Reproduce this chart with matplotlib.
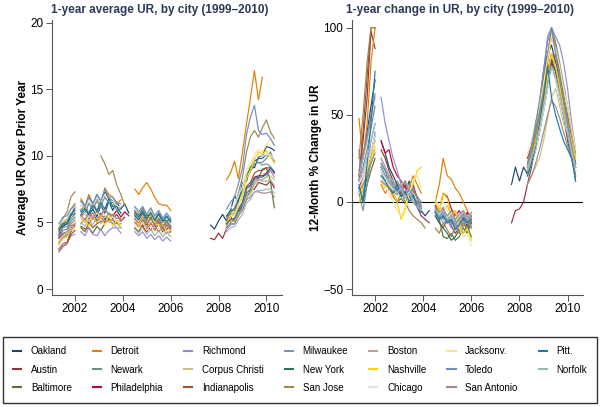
import numpy as np
import matplotlib
matplotlib.use("Agg")
import matplotlib.pyplot as plt

nan = np.nan

# time grid (decimal years), four segments separated by gaps
seg_len = [5, 13, 10, 17]
t = [2001.33, 2001.5, 2001.67, 2001.83, 2002.0,
     2002.25, 2002.42, 2002.58, 2002.75, 2002.92, 2003.08, 2003.25, 2003.42,
     2003.58, 2003.75, 2003.92, 2004.08, 2004.25,
     2004.5, 2004.67, 2004.83, 2005.0, 2005.17, 2005.33, 2005.5, 2005.67,
     2005.83, 2006.0,
     2007.67, 2007.83, 2008.0, 2008.17, 2008.33, 2008.5, 2008.67, 2008.83,
     2009.0, 2009.17, 2009.33, 2009.5, 2009.67, 2009.83, 2010.0, 2010.17, 2010.33]

cities = ["Oakland", "Austin", "Baltimore", "Detroit", "Newark", "Philadelphia",
          "Richmond", "Corpus Christi", "Indianapolis", "Milwaukee", "New York",
          "San Jose", "Boston", "Nashville", "Chicago", "Jacksonv.", "Toledo",
          "San Antonio", "Pitt.", "Norfolk"]
colors = ["#1a476f", "#90353b", "#55752f", "#e37e00", "#6e8e84", "#c10534",
          "#938dd2", "#cac27e", "#a0522d", "#7b92a8", "#2d6d66", "#9c8847",
          "#bfa19c", "#ffd200", "#d9e6eb", "#f2e39c", "#6d8fc6", "#a08890",
          "#1f7aa0", "#9ab6bb"]

# 1-year average unemployment rate
oakland_avg = [4.0, 4.7, 4.9, 5.6, 6.1,
               5.8, 6.1, 5.5, 6.0, 5.4, 6.3, 5.7, 6.6, 5.9, 6.5, 6.0, 6.4, 5.7,
               5.5, 5.2, 5.7, 5.0, 5.4, 4.8, 5.3, 4.7, 5.1, 4.7,
               4.8, 4.5, 5.1, 5.6, 5.1, 5.9, 7.0, 6.5, 8.0, 8.1, 9.2, 9.1, 9.9, 10.0, 10.7, 10.6, 10.4]
austin_avg = [3.0, 3.4, 3.5, 4.3, 4.8,
              4.9, 5.3, 4.9, 5.4, 5.0, 5.7, 5.2, 5.7, 5.3, 5.6, 5.1, 5.4, nan,
              5.0, 4.7, 4.7, 4.9, 4.4, 4.8, 4.3, 4.6, 4.2, 4.3,
              3.8, 3.7, 4.2, 3.8, 4.5, 5.1, 5.2, 5.7, 6.3, 6.8, 7.4, 7.5, 8.0, 7.9, 7.8, 8.1, 7.6]
baltimore_avg = [3.5, 3.9, 4.1, 4.6, 4.9,
                 4.7, 4.5, 4.6, 4.2, 4.7, 4.4, 4.9, 5.3, 4.9, 5.0, 4.6, nan, nan,
                 4.6, 4.3, 4.9, 4.5, 5.0, 4.4, 4.9, 4.3, 4.8, 4.5,
                 nan, nan, nan, nan, 4.6, 5.0, 5.2, 5.7, 6.2, 7.2, 7.5, 8.2, 8.3, 9.0, 9.1, 8.1, 6.1]
detroit_avg = [4.3, 4.9, 5.2, 6.0, 6.4,
               6.8, 6.2, 7.1, 6.4, 6.8, 6.3, 7.6, 7.1, 6.9, 6.4, 6.7, nan, nan,
               7.5, 7.1, 7.6, 8.0, 7.5, 6.9, 6.4, 6.3, 6.3, 5.9,
               nan, nan, nan, nan, 8.2, 8.7, 9.6, 8.3, 10.3, 12.4, 14.3, 16.4, 14.2, 15.9, nan, nan, nan]
newark_avg = [3.9, 4.4, 4.5, 5.1, 5.4,
              5.9, 6.3, 5.7, 6.5, 5.9, 6.7, 6.8, 6.6, 6.2, 6.1, 5.7, nan, nan,
              5.8, 5.5, 6.0, 5.3, 5.8, 5.2, 5.6, 5.0, 5.4, 5.0,
              nan, nan, nan, nan, 5.4, 5.8, 5.9, 6.7, 7.4, 8.5, 8.8, 9.4, 9.5, 9.5, 9.8, 10.3, 9.5]
philadelphia_avg = [3.8, 4.1, 4.2, 4.7, 5.0,
                    5.5, 5.7, 5.2, 5.7, 5.1, 5.4, 5.0, 5.5, 5.5, 5.9, 5.4, 5.8, 5.5,
                    5.3, 4.8, 4.7, 4.3, 4.9, 4.4, 5.0, 4.5, 4.5, 4.6,
                    nan, nan, nan, nan, 4.9, 5.4, 5.1, 6.0, 6.4, 7.5, 7.8, 8.4, 8.5, 8.5, 8.7, 9.1, 8.7]
richmond_avg = [3.0, 3.4, 3.5, 4.0, 4.1,
                4.3, 4.0, 4.6, 4.1, 4.0, 4.5, 4.0, 4.4, 4.6, 4.6, 4.2, nan, nan,
                4.3, 4.0, 4.3, 3.8, 4.1, 3.7, 4.0, 3.6, 3.9, 3.6,
                nan, nan, nan, nan, 4.5, 4.8, 4.9, 5.5, 6.1, 7.0, 7.3, 8.0, 8.2, 8.2, 8.4, 8.9, 8.4]
corpus_avg = [4.6, 5.1, 5.2, 5.7, 5.9,
              6.3, 5.9, 6.5, 6.1, 6.7, 6.3, 7.1, 6.7, 6.6, 6.1, 6.1, nan, nan,
              6.1, 5.7, 6.0, 5.5, 5.9, 5.4, 5.7, 5.1, 5.5, 5.1,
              nan, nan, nan, nan, 4.8, 5.1, 5.1, 5.7, 5.9, 6.9, 7.1, 7.8, 8.2, 8.2, 8.4, 8.5, 8.2]
indianapolis_avg = [2.8, 3.2, 3.4, 4.1, 4.4,
                    4.6, 4.3, 5.0, 4.6, 4.9, 5.1, 5.0, 5.2, 5.2, 4.9, 4.9, nan, nan,
                    5.0, 4.7, 5.2, 4.8, 5.3, 4.8, 5.2, 4.7, 5.1, 4.7,
                    nan, nan, nan, nan, 4.7, 5.1, 5.3, 6.0, 6.5, 7.7, 8.0, 8.7, 8.9, 8.9, 9.1, 9.1, 8.7]
milwaukee_avg = [4.2, 4.6, 4.7, 5.3, 5.6,
                 6.0, 5.7, 6.4, 6.0, 6.6, 6.1, 7.0, 6.5, 6.5, 5.9, 6.0, nan, nan,
                 5.6, 5.3, 5.8, 5.2, 5.7, 5.1, 5.6, 5.0, 5.4, 5.0,
                 nan, nan, nan, nan, 5.3, 5.6, 5.7, 6.4, 7.1, 8.5, 8.9, 9.4, 9.5, 9.3, 9.4, 9.2, 8.8]
newyork_avg = [4.5, 4.9, 5.0, 5.6, 5.9,
               6.6, 6.2, 6.9, 6.4, 7.1, 6.6, 7.3, 6.8, 6.6, 6.2, 6.2, nan, nan,
               5.9, 5.6, 6.1, 5.5, 5.6, 5.1, 5.7, 5.2, 5.1, 5.2,
               nan, nan, nan, nan, 5.5, 5.9, 6.0, 6.7, 7.4, 8.6, 9.1, 9.6, 9.8, 9.8, 10.1, 10.1, 9.6]
sanjose_avg = [4.5, 5.3, 5.8, 6.9, 7.3,
               nan, nan, nan, nan, nan, 10.0, 9.4, 8.6, 8.9, 7.8, 7.1, 6.3, nan,
               5.9, 5.5, 5.9, 5.2, 5.6, 4.9, 5.3, 4.7, 5.1, 4.6,
               nan, nan, nan, nan, 5.2, 5.7, 6.1, 7.2, 8.4, 10.3, 11.4, 11.9, 11.4, 12.1, 12.7, 11.8, 11.3]
boston_avg = [3.4, 3.8, 4.0, 4.6, 4.9,
              5.3, 5.0, 5.6, 5.2, 5.8, 5.4, 6.0, 5.5, 5.5, 5.1, 5.1, nan, nan,
              5.0, 4.7, 5.1, 4.6, 5.0, 4.5, 4.9, 4.4, 4.7, 4.4,
              nan, nan, nan, nan, 4.9, 5.2, 5.3, 5.9, 6.4, 7.5, 7.7, 8.2, 8.2, 8.1, 8.1, 8.2, 7.8]
nashville_avg = [3.3, 3.8, 3.9, 4.4, 4.6,
                 4.9, 5.3, 4.7, 5.4, 5.0, 5.5, 4.8, 5.6, 4.7, 5.1, 4.6, nan, nan,
                 5.2, 4.8, 5.5, 4.9, 5.7, 5.0, 4.8, 4.8, 4.3, 4.4,
                 nan, nan, nan, nan, 5.0, 5.4, 5.6, 6.3, 6.9, 8.3, 8.9, 9.7, 10.3, 10.1, 10.4, 9.9, 9.5]
chicago_avg = [4.8, 5.2, 5.3, 5.9, 6.2,
               6.5, 6.2, 6.7, 6.3, 6.9, 6.5, 7.1, 6.6, 6.6, 6.2, 6.2, nan, nan,
               6.0, 5.7, 6.2, 5.6, 6.0, 5.5, 5.9, 5.4, 5.7, 5.3,
               nan, nan, nan, nan, 5.8, 6.1, 6.3, 7.0, 7.7, 9.0, 9.4, 9.9, 10.0, 10.0, 10.1, 10.1, 9.7]
jacksonv_avg = [3.6, 4.0, 4.2, 4.8, 5.0,
                5.3, 5.7, 5.1, 5.6, 5.7, 5.5, 5.6, 5.4, 5.4, 5.2, 4.8, nan, nan,
                4.8, 4.5, 5.0, 4.4, 4.8, 4.3, 4.6, 4.1, 4.4, 4.0,
                nan, nan, nan, nan, 4.6, 5.1, 5.4, 6.3, 7.2, 8.7, 9.3, 10.1, 10.5, 10.3, 10.8, 11.3, 10.8]
toledo_avg = [4.9, 5.4, 5.5, 6.0, 6.3,
              6.6, 6.2, 6.9, 6.4, 7.1, 6.6, 7.5, 6.9, 6.9, 6.5, 6.4, nan, nan,
              6.2, 5.8, 6.2, 5.6, 6.1, 5.5, 5.9, 5.3, 5.7, 5.3,
              nan, nan, nan, nan, 6.0, 6.5, 6.9, 7.9, 9.1, 11.6, 12.9, 13.8, 11.9, 11.6, 11.7, 11.3, 10.8]
sanantonio_avg = [3.9, 4.2, 4.3, 4.9, 5.2,
                  5.5, 5.2, 5.7, 5.3, 5.9, 5.5, 6.1, 5.6, 5.6, 5.3, 5.3, nan, nan,
                  5.3, 5.0, 5.4, 4.9, 5.3, 4.8, 5.1, 4.6, 4.9, 4.5,
                  nan, nan, nan, nan, 4.6, 4.9, 4.9, 5.5, 5.9, 6.7, 6.9, 7.3, 7.3, 7.2, 7.2, 7.3, 6.9]
pitt_avg = [4.4, 4.8, 4.9, 5.5, 5.7,
            5.6, 6.0, 5.6, 6.3, 5.8, 6.5, 6.0, 6.8, 6.2, 6.2, 5.7, nan, nan,
            5.7, 5.4, 5.8, 5.3, 5.7, 5.2, 5.6, 5.1, 5.5, 5.1,
            nan, nan, nan, nan, 4.9, 5.2, 5.3, 5.9, 6.5, 7.6, 7.8, 8.3, 8.4, 8.4, 8.6, 9.1, 8.8]
norfolk_avg = [3.5, 3.9, 4.0, 4.5, 4.7,
               5.0, 4.7, 5.2, 4.8, 5.4, 4.9, 5.5, 5.0, 5.0, 4.6, 4.6, nan, nan,
               4.5, 4.2, 4.6, 4.1, 4.5, 4.0, 4.4, 3.9, 4.3, 3.9,
               nan, nan, nan, nan, 4.3, 4.6, 4.7, 5.2, 5.6, 6.5, 6.7, 7.3, 7.4, 7.4, 7.5, 7.5, 7.2]

# 12-month % change in unemployment rate
oakland_chg = [15, 25, 40, 55, 70,
               35, 28, 20, 15, 10, 8, 5, 12, 6, 3, -5, -8, -5,
               -6, -10, -8, -12, -10, -15, -12, -10, -14, -8,
               10, 20, 12, 20, 16, 26, 40, 55, 75, 85, 90, 80, 70, 60, 45, 30, 22]
austin_chg = [12, 35, 60, 98, 88,
              30, 25, 18, 12, 8, 5, 10, 3, 0, -3, -8, -10, -12,
              -8, -12, -15, -10, -14, -18, -15, -12, -16, -10,
              -12, -5, -4, 0, 10, 20, 33, 45, 60, 75, 85, 80, 65, 50, 35, 25, 15]
baltimore_chg = [5, 0, 10, 18, 25,
                 22, 18, 12, 5, 0, 2, -1, 5, 3, 0, -2, nan, nan,
                 -5, -10, -20, -21, -18, -22, -20, -15, -18, -12,
                 nan, nan, nan, nan, 15, 22, 30, 40, 52, 65, 78, 85, 70, 55, 45, 30, 12]
detroit_chg = [48, 25, 45, 80, 100,
               10, 5, 8, 3, 0, 5, 12, 8, 15, 10, 5, nan, nan,
               0, 10, 25, 15, 13, 8, 5, 0, -5, -10,
               nan, nan, nan, nan, 25, 30, 40, 45, 60, 80, 95, 90, 70, 60, 50, 35, 25]
newark_chg = [12, 20, 30, 42, 55,
              25, 20, 15, 10, 12, 8, 5, 10, 6, 3, 0, nan, nan,
              -5, -8, -3, -10, -12, -8, -14, -10, -12, -15,
              nan, nan, nan, nan, 18, 25, 32, 42, 55, 68, 80, 70, 60, 50, 38, 25, 15]
philadelphia_chg = [8, 15, 22, 30, 35,
                    35, 28, 30, 20, 15, 12, 8, 5, 10, 2, 0, nan, nan,
                    -2, -5, 5, 3, -4, -8, -5, -10, -6, -12,
                    nan, nan, nan, nan, 20, 28, 36, 45, 55, 70, 80, 75, 60, 50, 40, 30, 20]
richmond_chg = [30, 5, 20, 35, 45,
                60, 45, 35, 25, 18, 10, 5, 10, 3, 0, -3, nan, nan,
                -5, -8, -12, -10, -15, -12, -18, -14, -10, -15,
                nan, nan, nan, nan, 20, 30, 40, 55, 75, 95, 100, 95, 90, 80, 65, 45, 30]
corpus_chg = [10, 5, 15, 22, 30,
              15, 10, 12, 8, 5, 10, 12, 8, 5, 2, 0, nan, nan,
              0, -3, -5, -2, -8, -5, -10, -6, -12, -8,
              nan, nan, nan, nan, 10, 15, 20, 25, 35, 48, 60, 65, 55, 45, 40, 30, 20]
indianapolis_chg = [15, 40, 72, 100, 100,
                    20, 15, 12, 8, 10, 5, 3, 8, 2, 0, -4, nan, nan,
                    -4, -8, -5, -10, -7, -12, -9, -6, -10, -8,
                    nan, nan, nan, nan, 25, 32, 45, 55, 70, 85, 95, 88, 75, 60, 48, 35, 22]
milwaukee_chg = [5, -5, 10, 25, 40,
                 18, 12, 15, 10, 6, 8, 12, 5, 8, 2, -2, nan, nan,
                 -3, -6, -10, -8, -13, -10, -15, -12, -8, -14,
                 nan, nan, nan, nan, 22, 30, 40, 50, 65, 85, 100, 92, 80, 68, 55, 40, 28]
newyork_chg = [8, 2, 15, 28, 38,
               20, 15, 10, 5, 8, 3, 5, 0, 4, -2, -5, nan, nan,
               -8, -12, -15, -18, -22, -20, -16, -18, -14, -20,
               nan, nan, nan, nan, 15, 22, 30, 40, 55, 70, 82, 75, 65, 55, 45, 35, 20]
sanjose_chg = [25, 50, 80, 100, 100,
               nan, nan, nan, nan, nan, 5, 0, -5, -8, -10, -12, -15, nan,
               -15, -18, -12, -16, -20, -14, -18, -12, -15, -10,
               nan, nan, nan, nan, 20, 28, 38, 50, 65, 82, 100, 90, 78, 62, 48, 35, 20]
boston_chg = [15, 25, 35, 48, 60,
              25, 20, 15, 12, 8, 10, 4, 8, 3, 0, -3, nan, nan,
              -6, -10, -7, -12, -9, -14, -11, -8, -12, -9,
              nan, nan, nan, nan, 20, 26, 34, 45, 58, 72, 85, 78, 66, 52, 40, 28, 18]
nashville_chg = [0, 8, 18, 25, 32,
                 12, 8, 10, 5, 0, -10, -5, 5, 10, 18, 20, nan, nan,
                 0, -5, 5, 2, -8, -5, -12, -18, -15, -22,
                 nan, nan, nan, nan, 18, 25, 35, 45, 55, 72, 85, 78, 66, 55, 45, 35, 25]
chicago_chg = [10, 15, 22, 30, 38,
               18, 14, 10, 7, 5, 8, 3, 6, 1, -2, -4, nan, nan,
               -5, -7, -4, -9, -6, -10, -8, -5, -9, -6,
               nan, nan, nan, nan, 15, 22, 30, 40, 52, 65, 75, 70, 60, 50, 40, 30, 18]
jacksonv_chg = [5, 12, 20, 28, 35,
                15, 10, 5, 0, -5, -8, -3, 5, 12, 15, 8, nan, nan,
                2, -3, 0, -5, -10, -8, -15, -20, -18, -25,
                nan, nan, nan, nan, 28, 35, 45, 55, 68, 82, 95, 88, 78, 65, 55, 42, 30]
toledo_chg = [18, 28, 38, 50, 62,
              22, 18, 12, 10, 6, 9, 4, 7, 3, 0, -4, nan, nan,
              -5, -9, -6, -11, -8, -13, -10, -7, -11, -8,
              nan, nan, nan, nan, 22, 32, 45, 58, 75, 92, 100, 85, 72, 58, 45, 32, 20]
sanantonio_chg = [6, 10, 15, 22, 28,
                  12, 10, 8, 6, 4, 7, 2, 5, 0, -2, -5, nan, nan,
                  -3, -6, -4, -8, -5, -10, -7, -5, -9, -6,
                  nan, nan, nan, nan, 10, 15, 22, 30, 40, 50, 58, 55, 48, 40, 32, 25, 15]
pitt_chg = [10, 0, 22, 45, 75,
            15, 12, 8, 5, 10, 3, 6, 0, 4, -3, -6, nan, nan,
            -6, -10, -8, -12, -10, -16, -13, -9, -12, -10,
            nan, nan, nan, nan, 15, 22, 32, 45, 60, 78, 60, 50, 42, 35, 30, 25, 12]
norfolk_chg = [12, 18, 26, 35, 45,
               20, 15, 12, 8, 5, 8, 2, 5, 0, -3, -5, nan, nan,
               -4, -8, -5, -10, -8, -12, -9, -6, -10, -7,
               nan, nan, nan, nan, 18, 25, 33, 42, 55, 68, 78, 72, 62, 50, 40, 30, 20]

avg_series = [oakland_avg, austin_avg, baltimore_avg, detroit_avg, newark_avg,
              philadelphia_avg, richmond_avg, corpus_avg, indianapolis_avg,
              milwaukee_avg, newyork_avg, sanjose_avg, boston_avg, nashville_avg,
              chicago_avg, jacksonv_avg, toledo_avg, sanantonio_avg, pitt_avg,
              norfolk_avg]
chg_series = [oakland_chg, austin_chg, baltimore_chg, detroit_chg, newark_chg,
              philadelphia_chg, richmond_chg, corpus_chg, indianapolis_chg,
              milwaukee_chg, newyork_chg, sanjose_chg, boston_chg, nashville_chg,
              chicago_chg, jacksonv_chg, toledo_chg, sanantonio_chg, pitt_chg,
              norfolk_chg]


def with_gaps(vals):
    """Insert NaN between segments so lines break at the gaps."""
    out = []
    i = 0
    for n in seg_len:
        out.extend(vals[i:i + n])
        out.append(nan)
        i += n
    return np.array(out[:-1], dtype=float)


tt = with_gaps(t)

plt.rcParams['font.family'] = ['Liberation Sans', 'DejaVu Sans']
title_color = "#2b3a57"

fig = plt.figure(figsize=(6.0, 4.07), dpi=100)
ax1 = fig.add_axes([0.0862, 0.2752, 0.3833, 0.6757])
ax2 = fig.add_axes([0.5862, 0.2752, 0.3855, 0.6757])

handles = []
for name, col, ya, yc in zip(cities, colors, avg_series, chg_series):
    h, = ax1.plot(tt, with_gaps(ya), color=col, lw=0.85)
    ax2.plot(tt, with_gaps(yc), color=col, lw=0.85)
    handles.append(h)

ax2.axhline(0, color="black", lw=0.8, zorder=0.5)

for ax in (ax1, ax2):
    for s in ("top", "right"):
        ax.spines[s].set_visible(False)
    for s in ("left", "bottom"):
        ax.spines[s].set_color("#555555")
        ax.spines[s].set_linewidth(0.8)
    ax.set_xlim(2001.03, 2010.64)
    ax.set_xticks([2002, 2004, 2006, 2008, 2010])
    ax.tick_params(labelsize=8.5, length=4, width=0.7, color="#555555", pad=2)

ax1.set_ylim(-0.45, 20.2)
ax1.set_yticks([0, 5, 10, 15, 20])
ax2.set_ylim(-53.4, 104.4)
ax2.set_yticks([-50, 0, 50, 100])

ax1.set_title("1-year average UR, by city (1999\u20132010)", fontsize=8.5,
              fontweight="bold", color=title_color, pad=5, x=0.47)
ax2.set_title("1-year change in UR, by city (1999\u20132010)", fontsize=8.5,
              fontweight="bold", color=title_color, pad=5, x=0.47)
ax1.set_ylabel("Average UR Over Prior Year", fontsize=8.5, fontweight="bold", labelpad=1)
ax2.set_ylabel("12-Month % Change in UR", fontsize=8.5, fontweight="bold", labelpad=1)

leg_handles = [plt.Line2D([], [], color=c, lw=1.5) for c in colors]
leg = fig.legend(leg_handles, cities, loc="center", bbox_to_anchor=(0.5, 0.092),
                 ncol=7, fontsize=7, frameon=True, fancybox=False,
                 handlelength=0.85, handletextpad=1.0, columnspacing=2.15,
                 labelspacing=0.85, borderpad=1.0)
leg.get_frame().set_edgecolor("black")
leg.get_frame().set_linewidth(1.0)

fig.savefig("out.png", dpi=100)
